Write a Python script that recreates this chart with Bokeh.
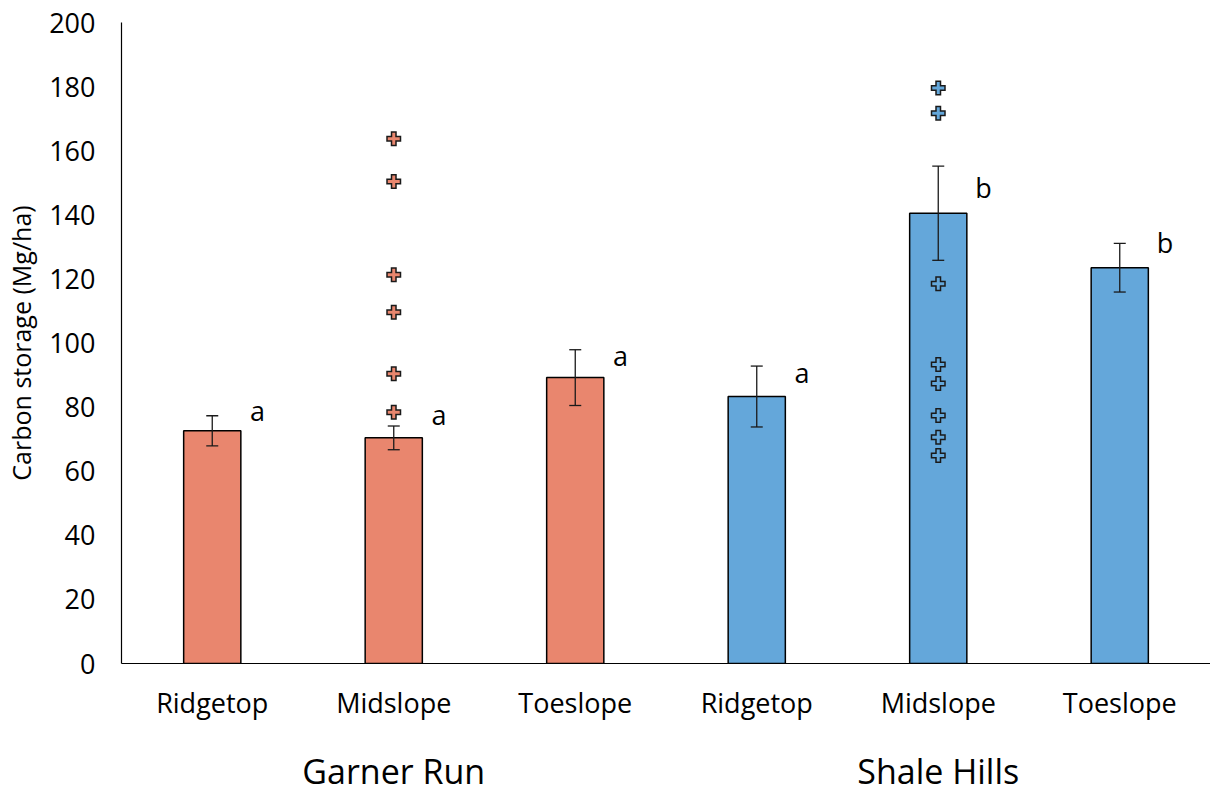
from bokeh.plotting import figure
from bokeh.models import (FactorRange, ColumnDataSource, Whisker, TeeHead, FixedTicker,
                          Range1d, CategoricalAxis)
from bokeh.transform import dodge
from bokeh.core.properties import value
from bokeh.embed import file_html
from bokeh.resources import INLINE

# Mean carbon storage by site and slope position
sites = ["Garner Run", "Garner Run", "Garner Run", "Shale Hills", "Shale Hills", "Shale Hills"]
positions = ["Ridgetop", "Midslope", "Toeslope", "Ridgetop", "Midslope", "Toeslope"]
means = [72.6, 70.4, 89.2, 83.3, 140.5, 123.5]
errors = [4.7, 3.7, 8.7, 9.5, 14.7, 7.6]
letters = ["a", "a", "a", "a", "b", "b"]
letter_y = [79.0, 77.7, 96.1, 90.8, 148.5, 131.4]

# Individual plot values at the two midslope positions
gr_mid_points = [163.7, 150.4, 121.3, 109.6, 90.4, 78.4]
sh_mid_points = [179.6, 171.7, 118.5, 93.3, 87.4, 77.4, 70.6, 64.9]

site_names = ["Garner Run", "Shale Hills"]
y_ticks = [0, 20, 40, 60, 80, 100, 120, 140, 160, 180, 200]

site_colors = {"Garner Run": "#E9866E", "Shale Hills": "#64A7DA"}
FONT = "Open Sans"

factors = list(zip(sites, positions))
colors = [site_colors[s] for s in sites]

bars = ColumnDataSource(dict(
    x=factors,
    mean=means,
    upper=[m + e for m, e in zip(means, errors)],
    lower=[m - e for m, e in zip(means, errors)],
    color=colors,
    letter=letters,
    ly=letter_y,
))

p = figure(
    width=1210, height=796,
    x_range=FactorRange(*factors, range_padding=0, group_padding=0, factor_padding=0),
    y_range=Range1d(0, 200),
    output_backend="svg", toolbar_location=None,
    min_border_left=121, min_border_right=0, min_border_top=22, min_border_bottom=133,
)
p.outline_line_color = None
p.background_fill_color = "white"
p.border_fill_color = "white"
p.xgrid.grid_line_color = None
p.ygrid.grid_line_color = None

p.vbar(x="x", top="mean", width=0.315, source=bars, fill_color="color",
       line_color="black", line_width=1.5)

whisk = Whisker(base="x", upper="upper", lower="lower", source=bars,
                line_color="#1a1a1a", line_width=1.3, level="annotation",
                upper_head=TeeHead(size=12, line_color="#1a1a1a", line_width=1.3),
                lower_head=TeeHead(size=12, line_color="#1a1a1a", line_width=1.3))
p.add_layout(whisk)

# plus-shaped markers with a dark outline
for site, pts in (("Garner Run", gr_mid_points), ("Shale Hills", sh_mid_points)):
    src = ColumnDataSource(dict(x=[(site, "Midslope")] * len(pts), y=pts))
    p.scatter(x="x", y="y", source=src, marker="cross", size=15, line_width=6,
              line_color="#1a1a1a")
    p.scatter(x="x", y="y", source=src, marker="cross", size=12, line_width=3,
              line_color=site_colors[site])

p.text(x=dodge("x", 0.25, range=p.x_range), y="ly", text="letter", source=bars,
       text_font=value(FONT), text_font_size="27px", text_color="black",
       text_align="center", text_baseline="middle")

# y axis
p.yaxis.ticker = FixedTicker(ticks=y_ticks)
p.yaxis.axis_label = "Carbon storage (Mg/ha)"
p.yaxis.axis_label_text_font = FONT
p.yaxis.axis_label_text_font_size = "25px"
p.yaxis.axis_label_text_font_style = "normal"
p.yaxis.axis_label_text_color = "black"
p.yaxis.axis_label_standoff = 8
p.yaxis.major_label_text_font = FONT
p.yaxis.major_label_text_font_size = "27px"
p.yaxis.major_label_text_color = "black"
p.yaxis.major_label_standoff = 20
p.yaxis.major_tick_line_color = None
p.yaxis.minor_tick_line_color = None
p.yaxis.axis_line_color = "black"
p.yaxis.axis_line_width = 1.2

# x axis: slope positions (site level shown on its own axis below)
p.xaxis.major_label_text_font = FONT
p.xaxis.major_label_text_font_size = "27px"
p.xaxis.major_label_text_color = "black"
p.xaxis.major_label_standoff = 14
p.xaxis.group_text_font_size = "0px"
p.xaxis.group_text_color = None
p.xaxis.separator_line_color = None
p.xaxis.major_tick_line_color = None
p.xaxis.minor_tick_line_color = None
p.xaxis.axis_line_color = "black"
p.xaxis.axis_line_width = 1.2

# site names, one per group of three bars
p.extra_x_ranges = {"sites": FactorRange(*site_names, range_padding=0, factor_padding=0)}
site_axis = CategoricalAxis(
    x_range_name="sites",
    axis_line_color=None, major_tick_line_color=None, minor_tick_line_color=None,
    major_label_text_font=FONT, major_label_text_font_size="34px",
    major_label_text_color="black", major_label_standoff=18,
)
p.add_layout(site_axis, "below")

open("out.html", "w").write(file_html(p, INLINE))
